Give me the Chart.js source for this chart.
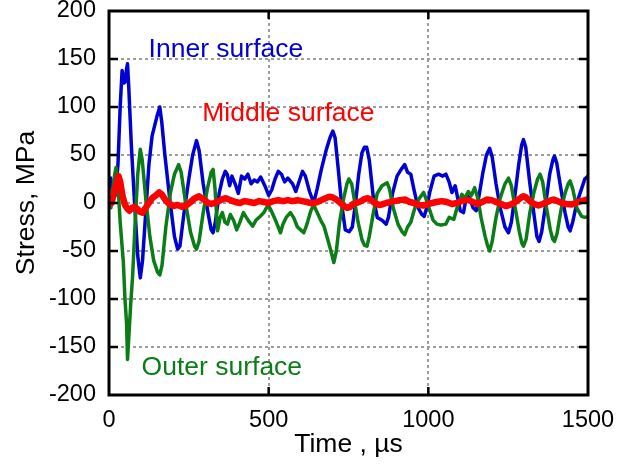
<!DOCTYPE html>
<html>
<head>
<meta charset="utf-8">
<title>Stress vs Time</title>
<script src="https://cdn.jsdelivr.net/npm/chart.js@4/dist/chart.umd.min.js"></script>
<style>
    body{
        margin:0;
        background:#ffffff;
    }
    #box{
        width:622px;
        height:473px;
    }
</style>
</head>
<body>

<div id="box">
    <canvas id="stressChart" width="622" height="473"></canvas>
</div>

<script>

/* ================= DATA ================= */

let timeTicks = [0, 500, 1000, 1500];

let stressTicks = [-200, -150, -100, -50, 0, 50, 100, 150, 200];

let innerTime = [
    0, 5, 10, 15, 20, 28, 35, 41, 46, 50, 55, 58, 62, 70, 80, 90, 98, 105, 115, 125,
    135, 150, 159, 165, 175, 190, 205, 215, 222, 235, 250, 262, 274, 282, 295, 310, 320, 326, 333, 345,
    355, 364, 370, 378, 385, 395, 405, 415, 425, 435, 445, 455, 465, 475, 488, 500, 510, 520, 530, 540,
    550, 560, 575, 585, 598, 606, 615, 628, 641, 652, 665, 680, 692, 701, 708, 718, 728, 740, 752, 762,
    772, 782, 792, 800, 807, 815, 828, 840, 855, 868, 875, 888, 902, 915, 926, 935, 945, 955, 968, 980,
    987, 995, 1005, 1018, 1032, 1045, 1055, 1065, 1074, 1084, 1092, 1100, 1110, 1120, 1130, 1140, 1150, 1160, 1170, 1182,
    1192, 1200, 1212, 1225, 1240, 1251, 1260, 1270, 1283, 1292, 1298, 1305, 1318, 1330, 1340, 1347, 1355, 1368, 1380, 1390,
    1395, 1402, 1415, 1428, 1438, 1444, 1452, 1465, 1480, 1490, 1500
];

let innerStress = [
    18, 26, 12, 22, 8, 40, 100, 138, 125, 126, 140, 145, 120, 60, 0, -55, -78, -60, -10, 40,
    70, 90, 100, 85, 50, 5, -35, -48, -45, -10, 25, 50, 65, 55, 20, -10, -28, -31, -20, 10,
    25, 33, 30, 18, 28, 20, 10, 28, 25, 30, 20, 24, 22, 27, 18, 8, 14, 25, 33, 30,
    22, 26, 20, 12, 25, 33, 28, 12, 0, 15, 35, 55, 68, 75, 68, 35, 0, -28, -30, -25,
    0, 30, 52, 58, 58, 45, 5, -15, -18, -22, -15, 10, 28, 35, 40, 32, 30, 14, -5, -12,
    -14, -5, 12, 28, 30, 28, 30, 22, 11, 18, 5, -8, -10, 8, 5, -5, -8, 10, 30, 50,
    57, 48, 20, -5, -25, -31, -20, 5, 40, 60, 66, 58, 20, -10, -35, -40, -30, 0, 30, 45,
    49, 42, 15, -10, -25, -29, -20, 0, 15, 25, 28
];

let outerTime = [
    0, 6, 12, 18, 22, 28, 35, 45, 50, 55, 58, 62, 68, 74, 82, 90, 98, 104, 115, 128,
    140, 152, 159, 166, 178, 192, 205, 218, 226, 240, 255, 268, 274, 282, 295, 308, 320, 326, 332, 340,
    348, 355, 363, 371, 380, 390, 400, 410, 421, 430, 440, 450, 460, 473, 485, 493, 500, 508, 520, 530,
    537, 545, 555, 568, 578, 590, 600, 610, 620, 632, 641, 652, 663, 673, 685, 695, 704, 712, 722, 735,
    745, 751, 760, 770, 780, 792, 800, 808, 815, 828, 840, 855, 871, 878, 890, 905, 918, 926, 935, 945,
    958, 972, 985, 992, 1002, 1015, 1027, 1040, 1055, 1065, 1080, 1090, 1105, 1115, 1125, 1135, 1145, 1155, 1165, 1178,
    1186, 1192, 1200, 1212, 1225, 1240, 1251, 1260, 1272, 1285, 1293, 1298, 1306, 1318, 1330, 1342, 1350, 1358, 1370, 1382,
    1390, 1395, 1403, 1415, 1428, 1438, 1444, 1452, 1465, 1480, 1490, 1500
];

let outerStress = [
    0, -5, 15, 30, 37, 20, -20, -62, -100, -125, -163, -140, -105, -76, -20, 30, 56, 45, 5, -35,
    -60, -72, -75, -65, -25, 10, 30, 40, 32, 0, -30, -45, -48, -40, -10, 15, 32, 35, 15, -29,
    -15, -10, -20, -22, -12, -18, -28, -20, -10, -15, -20, -24, -18, -14, -10, -5, -3, -8, -17, -25,
    -31, -22, -15, -10, -15, -25, -28, -31, -22, -8, -2, -10, -18, -24, -38, -50, -62, -50, -20, 5,
    20, 25, 20, 0, -20, -38, -44, -45, -35, -10, 10, 18, 21, 15, -5, -22, -30, -33, -25, -20,
    -5, 5, 11, 5, -5, -18, -22, -23, -22, -15, -17, -5, 9, 5, 12, 8, 16, 5, -15, -35,
    -45, -50, -40, -15, 5, 20, 26, 18, -5, -30, -42, -45, -38, -10, 10, 25, 30, 22, -5, -28,
    -38, -40, -32, -8, 10, 20, 23, 15, -5, -14, -15, -14
];

let middleTime = [
    0, 8, 15, 22, 30, 35, 42, 50, 58, 64, 72, 80, 88, 96, 105, 115, 125, 135, 147, 157,
    165, 175, 185, 195, 204, 215, 228, 240, 252, 265, 275, 282, 290, 300, 310, 320, 330, 345, 355, 366,
    380, 395, 410, 425, 440, 455, 470, 485, 500, 515, 530, 545, 560, 575, 590, 605, 620, 632, 641, 652,
    665, 678, 690, 699, 710, 722, 735, 746, 755, 765, 775, 790, 800, 808, 818, 832, 845, 855, 868, 880,
    895, 910, 928, 942, 955, 970, 985, 998, 1012, 1025, 1042, 1058, 1074, 1090, 1105, 1118, 1126, 1140, 1155, 1168,
    1183, 1198, 1212, 1228, 1240, 1246, 1255, 1268, 1280, 1292, 1298, 1305, 1318, 1330, 1345, 1358, 1372, 1385, 1392, 1405,
    1418, 1432, 1449, 1462, 1478, 1490, 1496, 1500
];

let middleStress = [
    3, 0, 10, 18, 28, 22, 8, -2, -6, -8, -5, -4, -6, -9, -10, -5, 0, 5, 8, 11,
    9, 4, 0, -2, -3, -2, -4, -3, 0, 4, 6, 7, 5, 3, 0, -1, 0, 2, 4, 5,
    3, 1, 0, 2, 1, 0, 2, 1, 0, 2, 3, 2, 3, 2, 3, 2, 1, 0, 0, 1,
    3, 5, 6.5, 6, 4, 1, -3, -5, -4, -1, 0, 2, 4, 5, 4, 0, -2, -1.5, 0, 1,
    2, 3, 3.6, 1, 0, -2, -2.6, -1, 0, 1, 2, 1, -1, 0, 2, 3, 3, 1, -1, 1,
    3.6, 3, 1, -1, -3, -3, -2, 0, 3, 6, 7, 6, 2, -1, -2.6, -1, 1, 3, 3.6, 2,
    0, -1, -1.5, 0, 2, 3, 3.6, 3
];

/* ================= LABELS ON THE PLOT ================= */

let curveLabels = [
    { text: "Inner surface", time: 124, stress: 152, color: "#0000d2" },
    { text: "Middle surface", time: 292, stress: 85, color: "#ff0000" },
    { text: "Outer surface", time: 102, stress: -179, color: "#0b7d16" }
];

let fontName = "'Liberation Sans', Arial, sans-serif";

/* ================= HELPERS ================= */

function toPoints(times, values){

    return times.map((t, i) => {

        return { x: t, y: values[i] };

    });

}

/* ================= FRAME + INWARD TICKS ================= */

let framePlugin = {

    id: "frame",

    afterDatasetsDraw(chart){

        let ctx = chart.ctx;
        let area = chart.chartArea;
        let xs = chart.scales.x;
        let ys = chart.scales.y;

        ctx.save();

        ctx.strokeStyle = "#000000";
        ctx.lineWidth = 2.5;

        // ticks on left and right
        stressTicks.forEach(v => {

            if(v === stressTicks[0] || v === stressTicks[stressTicks.length - 1]) return;

            let py = ys.getPixelForValue(v);

            ctx.beginPath();
            ctx.moveTo(area.left, py);
            ctx.lineTo(area.left + 9, py);
            ctx.moveTo(area.right, py);
            ctx.lineTo(area.right - 9, py);
            ctx.stroke();

        });

        // ticks on top and bottom
        timeTicks.forEach(t => {

            if(t === timeTicks[0] || t === timeTicks[timeTicks.length - 1]) return;

            let px = xs.getPixelForValue(t);

            ctx.beginPath();
            ctx.moveTo(px, area.top);
            ctx.lineTo(px, area.top + 8);
            ctx.moveTo(px, area.bottom);
            ctx.lineTo(px, area.bottom - 8);
            ctx.stroke();

        });

        // box
        ctx.lineWidth = 3;
        ctx.strokeRect(area.left, area.top, area.right - area.left, area.bottom - area.top);

        // curve names
        ctx.font = "26.5px " + fontName;
        ctx.textAlign = "left";
        ctx.textBaseline = "alphabetic";

        curveLabels.forEach(l => {

            ctx.fillStyle = l.color;
            ctx.fillText(l.text, xs.getPixelForValue(l.time), ys.getPixelForValue(l.stress));

        });

        ctx.restore();

    }

};

/* ================= CHART ================= */

let ctx1 = document.getElementById("stressChart");

let stressChart = new Chart(ctx1, {

    type: "line",

    data: {

        datasets: [
            {
                label: "Middle surface",
                data: toPoints(middleTime, middleStress),
                borderColor: "#ff0000",
                borderWidth: 6.5,
                order: 1
            },
            {
                label: "Outer surface",
                data: toPoints(outerTime, outerStress),
                borderColor: "#0b7d16",
                borderWidth: 3.5,
                order: 2
            },
            {
                label: "Inner surface",
                data: toPoints(innerTime, innerStress),
                borderColor: "#0000d2",
                borderWidth: 3.5,
                order: 3
            }
        ]

    },

    options: {

        responsive: false,
        animation: false,

        layout: {
            padding: { top: 11, right: 34, bottom: 0, left: 0 }
        },

        elements: {
            point: { radius: 0 },
            line: { tension: 0, borderJoinStyle: "round" }
        },

        plugins: {
            legend: { display: false },
            tooltip: { enabled: false }
        },

        scales: {

            x: {
                type: "linear",
                min: 0,
                max: 1500,
                afterBuildTicks(scale){
                    scale.ticks = timeTicks.map(v => ({ value: v }));
                },
                afterFit(scale){
                    scale.height = 78;
                    scale.paddingLeft = 0;
                    scale.paddingRight = 0;
                },
                ticks: {
                    color: "#000000",
                    font: { family: fontName, size: 23.5 },
                    padding: 11,
                    maxRotation: 0,
                    callback: v => String(v)
                },
                grid: {
                    color: "#9c9c9c",
                    lineWidth: 2,
                    drawTicks: false
                },
                border: {
                    display: false,
                    dash: [3, 3]
                },
                title: {
                    display: true,
                    text: "Time , \u00b5s",
                    color: "#000000",
                    font: { family: fontName, size: 26.5 },
                    padding: { top: 0, bottom: 12 }
                }
            },

            y: {
                type: "linear",
                min: -200,
                max: 200,
                afterBuildTicks(scale){
                    scale.ticks = stressTicks.map(v => ({ value: v }));
                },
                afterFit(scale){
                    scale.width = 109;
                    scale.paddingTop = 0;
                    scale.paddingBottom = 0;
                },
                ticks: {
                    color: "#000000",
                    font: { family: fontName, size: 23.5 },
                    padding: 13,
                    callback: v => String(v)
                },
                grid: {
                    color: "#9c9c9c",
                    lineWidth: 2,
                    drawTicks: false
                },
                border: {
                    display: false,
                    dash: [3, 3]
                },
                title: {
                    display: true,
                    text: "Stress, MPa",
                    color: "#000000",
                    font: { family: fontName, size: 26.5 },
                    padding: { top: 11, bottom: 0 }
                }
            }

        }

    },

    plugins: [framePlugin]

});

</script>
</body>
</html>
